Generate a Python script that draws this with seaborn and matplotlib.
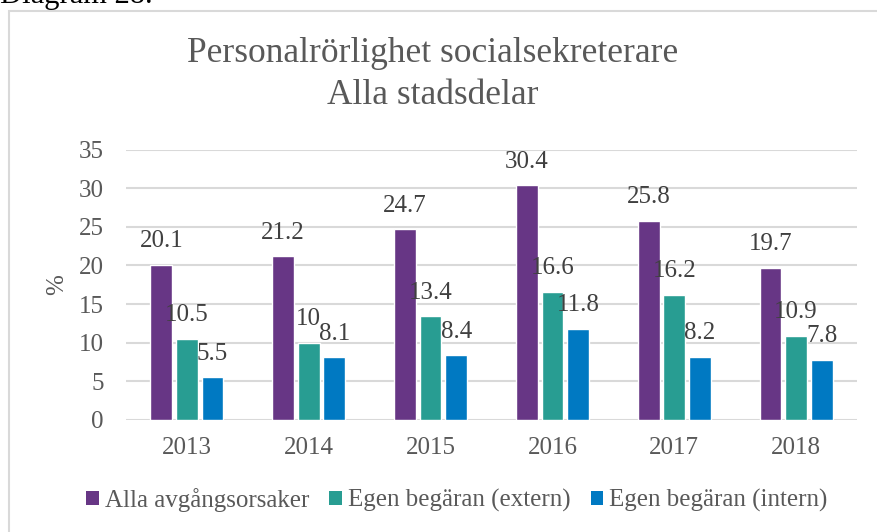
import matplotlib
matplotlib.use("Agg")
import matplotlib.pyplot as plt
import matplotlib.patches as mpatches
import seaborn as sns
import pandas as pd

years = ["2013", "2014", "2015", "2016", "2017", "2018"]
series = ["Alla avgångsorsaker", "Egen begäran (extern)", "Egen begäran (intern)"]
alla = [20.1, 21.2, 24.7, 30.4, 25.8, 19.7]
extern = [10.5, 10, 13.4, 16.6, 16.2, 10.9]
intern = [5.5, 8.1, 8.4, 11.8, 8.2, 7.8]
colors = ["#673685", "#289D92", "#0079C2"]
yticks = [0, 5, 10, 15, 20, 25, 30, 35]

rows = []
for s, vals in zip(series, [alla, extern, intern]):
    for y, v in zip(years, vals):
        rows.append({"year": y, "value": v, "series": s})
df = pd.DataFrame(rows)

sns.set_theme(style="white")
plt.rcParams["font.family"] = ["Liberation Serif", "DejaVu Serif"]

W, H = 877, 532
fig = plt.figure(figsize=(W / 100, H / 100), dpi=100)
fig.patch.set_facecolor("white")

# chart border
fig.patches.append(mpatches.Rectangle((9 / W, -0.1), 1.0, 1.1 - 11 / H, transform=fig.transFigure,
                                      fill=False, edgecolor="#D9D9D9", linewidth=1.5, zorder=0))
fig.text(0.0, 1 - 3 / H, "Diagram 28.", fontsize=22, color="black", va="baseline", ha="left")

ax = fig.add_axes([126 / W, 1 - 420 / H, (857 - 126) / W, (420 - 149.5) / H])
sns.barplot(data=df, x="year", y="value", hue="series", palette=colors, width=0.63, gap=0.15,
            saturation=1, ax=ax, legend=False, errorbar=None, zorder=3)
ax.set_ylim(0, 35)
ax.set_xlim(-0.5, len(years) - 0.5)
ax.set_yticks(yticks)
ax.set_yticklabels([str(t) for t in yticks])
ax.yaxis.grid(True, color="#D9D9D9", linewidth=1.5, zorder=0)
ax.set_axisbelow(True)
for sp in ax.spines.values():
    sp.set_visible(False)
ax.tick_params(axis="both", length=0, labelsize=18, labelcolor="#595959")
ax.tick_params(axis="y", pad=16)
ax.tick_params(axis="x", pad=12)
ax.set_xlabel("")
ax.set_ylabel("%", fontsize=18, color="#595959", labelpad=8)

for cont in ax.containers:
    ax.bar_label(cont, fmt="%g", padding=9, fontsize=18, color="#404040")

fig.text(0.493, 1 - 54 / H, "Personalrörlighet socialsekreterare", ha="center", va="center",
         fontsize=25.5, color="#595959")
fig.text(0.493, 1 - 95 / H, "Alla stadsdelar", ha="center", va="center",
         fontsize=25.5, color="#595959")

handles = [mpatches.Patch(facecolor=c, edgecolor="none") for c in colors]
fig.legend(handles, series, loc="center", bbox_to_anchor=(457 / W, 1 - 500 / H), ncol=3,
           frameon=False, fontsize=18, labelcolor="#595959", handlelength=0.5, handleheight=0.5,
           handletextpad=0.25, columnspacing=0.8, borderaxespad=0)

fig.savefig("out.png", dpi=100, facecolor="white")
